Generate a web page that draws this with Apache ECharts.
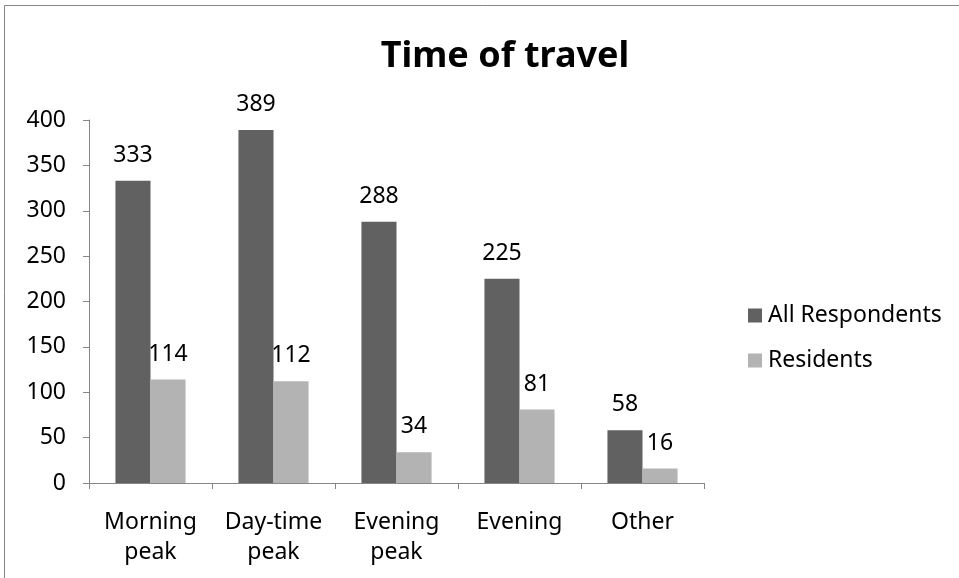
<!DOCTYPE html>
<html><head><meta charset="utf-8">
<script src="https://cdn.jsdelivr.net/npm/echarts@6/dist/echarts.min.js"></script>
<style>html,body{margin:0;padding:0;background:#fff}#c{width:959px;height:578px}</style>
</head><body><div id="c"></div>
<script>
const categories = ['Morning\npeak', 'Day-time\npeak', 'Evening\npeak', 'Evening', 'Other'];
const allRespondents = [333, 389, 288, 225, 58];
const residents = [114, 112, 34, 81, 16];
const yTicks = [0, 50, 100, 150, 200, 250, 300, 350, 400];

const FONT = 'Noto Sans';
const FS = 23;
const chart = echarts.init(document.getElementById('c'), null, {renderer: 'canvas'});
const lbl = {show: true, position: 'top', distance: 14, color: '#000', fontFamily: FONT, fontSize: FS};
chart.setOption({
  animation: false,
  graphic: [{type: 'rect', shape: {x: 4.5, y: 5.5, width: 1000, height: 1000}, style: {fill: 'none', stroke: '#868686', lineWidth: 1}, silent: true}],
  title: {text: 'Time of travel', left: 500, textAlign: 'center', top: 34,
    textStyle: {fontFamily: FONT, fontWeight: 'bold', fontSize: 36, color: '#000'}},
  legend: {orient: 'vertical', left: 743, top: 299, itemGap: 22, itemWidth: 14, itemHeight: 14,
    icon: 'rect', textStyle: {fontFamily: FONT, fontSize: FS, color: '#000', padding: [0, 0, 0, 1]},
    data: ['All Respondents', 'Residents']},
  grid: {left: 89, top: 120, right: 255, bottom: 95, containLabel: false},
  xAxis: {type: 'category', data: categories,
    axisLine: {lineStyle: {color: '#868686'}},
    axisTick: {show: true, length: 6, inside: false, lineStyle: {color: '#868686'}},
    axisLabel: {color: '#000', fontFamily: FONT, fontSize: FS, margin: 24, lineHeight: 30, interval: 0}},
  yAxis: {type: 'value', min: yTicks[0], max: yTicks[yTicks.length - 1], interval: 50,
    axisLine: {show: true, lineStyle: {color: '#868686'}},
    axisTick: {show: true, length: 6, lineStyle: {color: '#868686'}},
    splitLine: {show: false},
    axisLabel: {color: '#000', fontFamily: FONT, fontSize: FS, margin: 23}},
  series: [
    {name: 'All Respondents', type: 'bar', data: allRespondents, barGap: '0%', barCategoryGap: '43%',
      itemStyle: {color: '#616161'}, label: lbl},
    {name: 'Residents', type: 'bar', data: residents,
      itemStyle: {color: '#b3b3b3'}, label: lbl}
  ]
});
</script></body></html>
